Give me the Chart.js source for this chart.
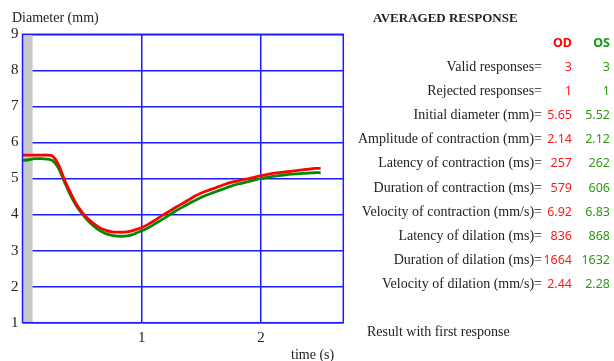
<!DOCTYPE html>
<html>
<head>
<meta charset="utf-8">
<script src="https://cdn.jsdelivr.net/npm/chart.js@4.4.1/dist/chart.umd.min.js"></script>
<style>
    body { margin: 0; background: #fff; width: 614px; height: 361px; overflow: hidden; position: relative; }
    #pupil-chart { position: absolute; left: 0; top: 0; }
    #summary { position: absolute; left: 340px; top: 0; width: 274px; height: 361px; font-family: "Liberation Serif", serif; color: #222; }
    #summary .head { position: absolute; left: 33px; top: 10px; font-size: 13px; font-weight: bold; }
    #summary .row { position: absolute; left: 0; height: 20px; line-height: 20px; width: 274px; }
    #summary .lbl { position: absolute; right: 72px; font-size: 14px; white-space: nowrap; }
    #summary .od, #summary .os { position: absolute; font-family: "Noto Sans", sans-serif; font-size: 12.5px; text-align: right; }
    #summary .od { right: 42px; color: #ff1a1a; }
    #summary .os { right: 4px; color: #2e9a12; }
    #summary .colhead .od, #summary .colhead .os { font-weight: bold; font-size: 12.5px; }
    #summary .colhead .od { color: #ff0000; }
    #summary .colhead .os { color: #129a12; }
    #summary .foot { position: absolute; left: 27px; top: 324px; font-size: 14px; }
</style>
</head>
<body>
<canvas id="pupil-chart" width="350" height="361"></canvas>
<div id="summary"></div>
<script>
// time axis (s) and averaged pupil diameter (mm) for both eyes
let times = [0.00, 0.05, 0.10, 0.15, 0.20, 0.25, 0.30, 0.35, 0.40, 0.45,
             0.50, 0.55, 0.60, 0.65, 0.70, 0.75, 0.80, 0.85, 0.90, 0.95,
             1.00, 1.05, 1.10, 1.15, 1.20, 1.25, 1.30, 1.35, 1.40, 1.45,
             1.50, 1.55, 1.60, 1.65, 1.70, 1.75, 1.80, 1.85, 1.90, 1.95,
             2.00, 2.05, 2.10, 2.15, 2.20, 2.25, 2.30, 2.35, 2.40, 2.45, 2.50];
let diameterOD = [5.65, 5.65, 5.65, 5.65, 5.65, 5.63, 5.40, 4.98, 4.62, 4.30,
                  4.06, 3.88, 3.74, 3.63, 3.56, 3.52, 3.51, 3.51, 3.53, 3.58,
                  3.64, 3.72, 3.82, 3.93, 4.03, 4.13, 4.23, 4.32, 4.42, 4.52,
                  4.60, 4.66, 4.72, 4.78, 4.84, 4.89, 4.93, 4.97, 5.00, 5.04,
                  5.08, 5.11, 5.14, 5.16, 5.18, 5.20, 5.22, 5.24, 5.26, 5.28, 5.28];
let diameterOS = [5.50, 5.52, 5.55, 5.55, 5.54, 5.50, 5.30, 4.92, 4.55, 4.25,
                  4.02, 3.83, 3.67, 3.55, 3.47, 3.42, 3.40, 3.40, 3.42, 3.48,
                  3.55, 3.63, 3.72, 3.82, 3.92, 4.03, 4.13, 4.22, 4.31, 4.40,
                  4.48, 4.55, 4.61, 4.67, 4.73, 4.79, 4.84, 4.88, 4.92, 4.96,
                  5.00, 5.03, 5.06, 5.08, 5.10, 5.12, 5.13, 5.14, 5.15, 5.16, 5.16];
let stimulus = [0, 0.085];
let xTicks = [1, 2];
let yTicks = [1, 2, 3, 4, 5, 6, 7, 8, 9];

// summary table
let metricLabels = ['Valid responses=', 'Rejected responses=', 'Initial diameter (mm)=',
                    'Amplitude of contraction (mm)=', 'Latency of contraction (ms)=',
                    'Duration of contraction (ms)=', 'Velocity of contraction (mm/s)=',
                    'Latency of dilation (ms)=', 'Duration of dilation (ms)=',
                    'Velocity of dilation (mm/s)='];
let metricOD = ['3', '1', '5.65', '2.14', '257', '579', '6.92', '836', '1664', '2.44'];
let metricOS = ['3', '1', '5.52', '2.12', '262', '606', '6.83', '868', '1632', '2.28'];

function buildSummary() {
    let box = document.getElementById('summary');
    let html = '<div class="head">AVERAGED RESPONSE</div>';
    html += '<div class="row colhead" style="top:33px"><span class="od">OD</span><span class="os">OS</span></div>';
    for (let i = 0; i < metricLabels.length; i++) {
        let top = 57 + i * 24.1;
        html += '<div class="row" style="top:' + top + 'px">' +
                '<span class="lbl">' + metricLabels[i] + '</span>' +
                '<span class="od">' + metricOD[i] + '</span>' +
                '<span class="os">' + metricOS[i] + '</span></div>';
    }
    html += '<div class="foot">Result with first response</div>';
    box.innerHTML = html;
}

let chartExtras = {
    id: 'chartExtras',
    beforeDatasetsDraw(chart) {
        let ctx = chart.ctx;
        let area = chart.chartArea;
        let x0 = chart.scales.x.getPixelForValue(stimulus[0]);
        let x1 = chart.scales.x.getPixelForValue(stimulus[1]);
        ctx.save();
        ctx.fillStyle = '#c8c8c8';
        ctx.fillRect(x0, area.top, x1 - x0, area.bottom - area.top);
        ctx.restore();
    },
    afterDraw(chart) {
        let ctx = chart.ctx;
        let area = chart.chartArea;
        ctx.save();
        ctx.strokeStyle = '#1a1aff';
        ctx.lineWidth = 1.5;
        ctx.strokeRect(area.left, area.top, area.right - area.left, area.bottom - area.top);
        ctx.fillStyle = '#222';
        ctx.font = '14px "Liberation Serif", serif';
        ctx.textBaseline = 'middle';
        ctx.fillText('Diameter (mm)', 12, 18);
        ctx.fillText('time (s)', 291, 355);
        ctx.restore();
    }
};

function drawChart() {
    let ctx = document.getElementById('pupil-chart').getContext('2d');
    return new Chart(ctx, {
        type: 'line',
        data: {
            datasets: [{
                label: 'OD',
                data: times.map((t, i) => ({x: t, y: diameterOD[i]})),
                borderColor: '#ff0000',
                borderWidth: 2.8,
                pointRadius: 0,
                tension: 0.3
            }, {
                label: 'OS',
                data: times.map((t, i) => ({x: t, y: diameterOS[i]})),
                borderColor: '#008a00',
                borderWidth: 2.8,
                pointRadius: 0,
                tension: 0.3
            }]
        },
        options: {
            responsive: false,
            animation: false,
            layout: { padding: { top: 34.3, right: 6.7, left: 0, bottom: 0 } },
            plugins: { legend: { display: false }, tooltip: { enabled: false } },
            scales: {
                x: {
                    type: 'linear',
                    min: 0,
                    max: 2.69,
                    afterBuildTicks: scale => { scale.ticks = xTicks.map(v => ({value: v})); },
                    afterFit: scale => { scale.height = 38.3; },
                    border: { display: false },
                    grid: { color: '#1a1aff', lineWidth: 1.5, drawTicks: false },
                    ticks: { color: '#222', padding: 6, font: { family: 'Liberation Serif', size: 15 } }
                },
                y: {
                    min: 1,
                    max: 9,
                    afterBuildTicks: scale => { scale.ticks = yTicks.map(v => ({value: v})); },
                    afterFit: scale => { scale.width = 22.5; },
                    border: { display: false },
                    grid: { color: '#1a1aff', lineWidth: 1.5, drawTicks: false },
                    ticks: { color: '#222', padding: 4, font: { family: 'Liberation Serif', size: 15 } }
                }
            }
        },
        plugins: [chartExtras]
    });
}

buildSummary();
drawChart();
</script>
</body>
</html>
